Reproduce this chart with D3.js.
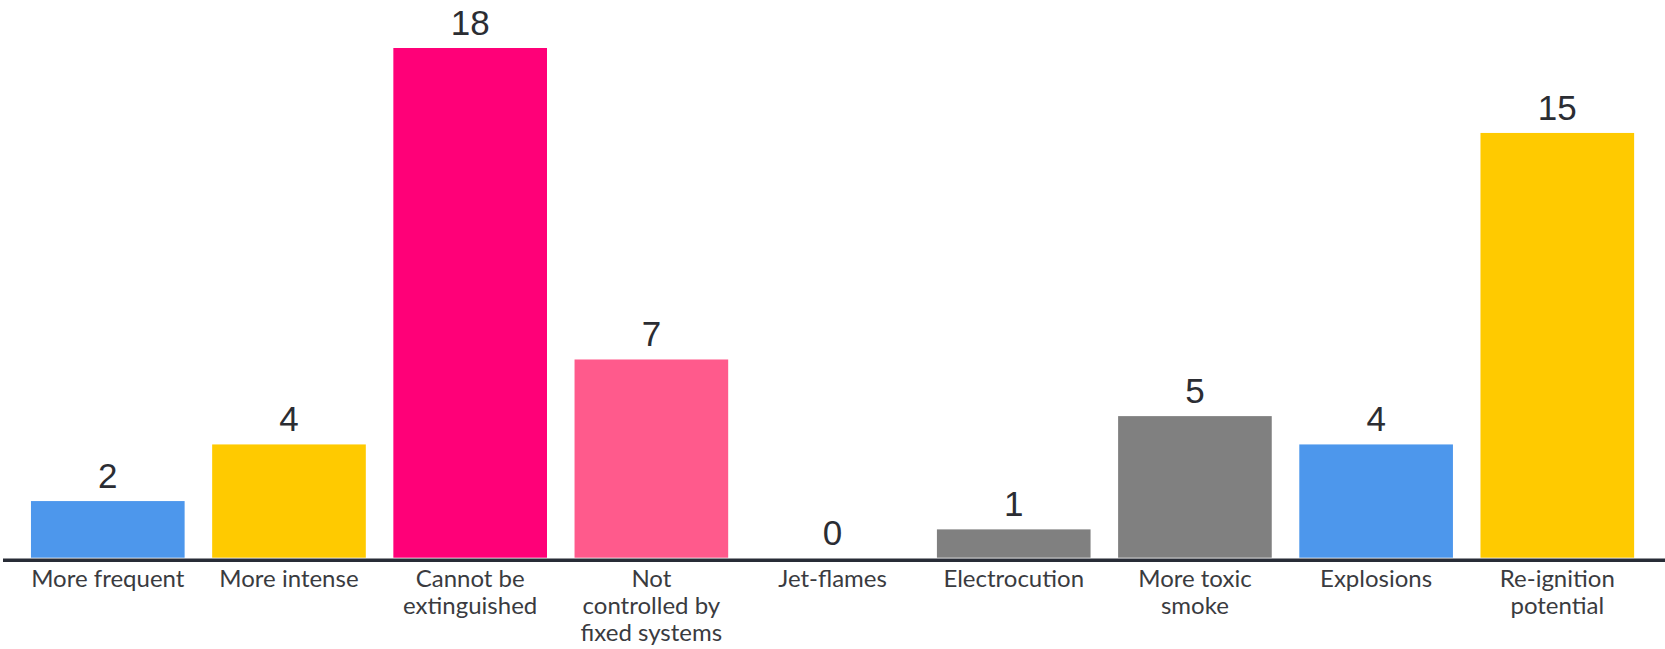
<!DOCTYPE html>
<html>
<head>
<meta charset="utf-8">
<script src="https://cdn.jsdelivr.net/npm/d3@7"></script>
<style>
  html, body { margin: 0; padding: 0; background: #fff; }
  svg { display: block; }
</style>
</head>
<body>
<svg id="chart" width="1665" height="649"></svg>
<script>
const categories = [
  "More frequent",
  "More intense",
  "Cannot be\nextinguished",
  "Not\ncontrolled by\nfixed systems",
  "Jet-flames",
  "Electrocution",
  "More toxic\nsmoke",
  "Explosions",
  "Re-ignition\npotential"
];
const values = [2, 4, 18, 7, 0, 1, 5, 4, 15];
const barColors = ["#4D97EC", "#FFCA00", "#FF0078", "#FF5A8C", "#808080", "#808080", "#808080", "#4D97EC", "#FFCA00"];

const W = 1665, H = 649;
const baseY = 557.7;
const svg = d3.select("#chart");

const x = d3.scaleBand()
  .domain(categories)
  .range([17.2, 1647.9])
  .paddingInner(0.152)
  .paddingOuter(0.076);

const y = d3.scaleLinear()
  .domain([0, 18])
  .range([baseY, 48]);

const data = categories.map((c, i) => ({ c, v: values[i], color: barColors[i] }));

svg.selectAll("rect.bar")
  .data(data)
  .join("rect")
  .attr("class", "bar")
  .attr("x", d => x(d.c))
  .attr("width", x.bandwidth())
  .attr("y", d => y(d.v))
  .attr("height", d => y(0) - y(d.v))
  .attr("fill", d => d.color);

// baseline
svg.append("line")
  .attr("x1", 3).attr("x2", W)
  .attr("y1", baseY + 2.5).attr("y2", baseY + 2.5)
  .attr("stroke", "#282c36")
  .attr("stroke-width", 3.5);

// value labels
svg.selectAll("text.val")
  .data(data)
  .join("text")
  .attr("class", "val")
  .attr("x", d => x(d.c) + x.bandwidth() / 2)
  .attr("y", d => y(d.v) - 13)
  .attr("text-anchor", "middle")
  .attr("font-family", "'Liberation Sans', Arial, sans-serif")
  .attr("font-size", 35)
  .attr("fill", "#2b2d33")
  .text(d => d.v);

// category labels
const labels = svg.selectAll("text.cat")
  .data(data)
  .join("text")
  .attr("class", "cat")
  .attr("x", d => x(d.c) + x.bandwidth() / 2)
  .attr("y", 586.7)
  .attr("text-anchor", "middle")
  .attr("font-family", "Lato, 'Noto Sans', sans-serif")
  .attr("font-size", 24)
  .attr("fill", "#3a3b3f");

labels.selectAll("tspan")
  .data(d => d.c.split("\n").map(t => ({ t, cx: x(d.c) + x.bandwidth() / 2 })))
  .join("tspan")
  .attr("x", d => d.cx)
  .attr("dy", (d, i) => i === 0 ? 0 : 27)
  .text(d => d.t);
</script>
</body>
</html>
